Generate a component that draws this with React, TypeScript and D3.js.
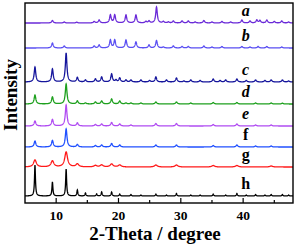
import React from 'react';
import * as d3 from 'd3';

// XRD patterns, peaks as [2-theta, height]
const labels = ['a', 'b', 'c', 'd', 'e', 'f', 'g', 'h'];
const colors = ['#6a2ad8', '#5a4ff2', '#15159c', '#1ea01e', '#b04cf2', '#2050ff', '#ff1a1a', '#000000'];
const offsets = [180, 155, 121, 99, 77, 56, 36, 7];
const widths = [0.15, 0.15, 0.15, 0.16, 0.16, 0.16, 0.27, 0.09];

const peaksA = [[9.4, 2.5], [11.3, 1], [13.3, 0.8], [16.1, 1.5], [16.9, 3], [18.7, 8], [19.4, 8], [21.2, 8], [22.8, 8], [24.4, 1.5], [24.9, 2], [26.1, 16], [27.2, 1.5], [28.0, 1], [28.8, 2], [30.2, 2], [31.2, 2], [32.3, 1], [33.7, 2.5], [35.0, 1], [36.6, 1.5], [38.0, 1], [39.8, 3], [41.1, 2], [42.2, 3], [42.7, 2.5], [43.8, 3], [45.0, 1.5], [46.2, 2], [47.3, 1]];
const peaksB = [[9.4, 5], [11.3, 2], [16.1, 2], [16.9, 3], [18.7, 8], [19.4, 8], [21.2, 8], [22.8, 6], [24.9, 3], [26.1, 7.5], [27.2, 1], [28.8, 2], [30.2, 1.5], [31.2, 1.5], [33.7, 2], [35.0, 1], [36.6, 1.5], [39.8, 1.5], [41.1, 1], [42.4, 1.5], [43.8, 1.5], [46.2, 1]];
const peaksC = [[6.6, 15], [9.4, 13], [11.6, 29], [13.4, 4.5], [14.7, 2], [16.3, 3], [17.3, 5], [18.9, 8], [19.6, 2], [20.2, 4], [21.2, 2], [22.0, 2], [23.6, 2], [25.0, 1.5], [26.0, 5], [27.7, 2], [29.3, 4], [30.5, 1], [31.6, 2], [33.1, 1.5], [35.2, 3], [36.3, 1.5], [37.2, 2], [39.0, 3], [40.5, 1.5], [42.0, 2], [43.5, 1.5], [44.5, 2], [46.3, 2], [47.3, 1]];
const peaksD = [[6.6, 9], [9.4, 7], [11.6, 20], [13.4, 3], [14.7, 1], [16.3, 2], [17.3, 3], [18.9, 5], [20.2, 3], [21.2, 1], [22.0, 1], [23.6, 1], [26.0, 2], [29.3, 2], [31.6, 1], [35.2, 1.5], [39.0, 1.5], [42.0, 1], [44.5, 1], [46.3, 0.8]];
const peaksE = [[6.6, 5], [9.4, 6.5], [11.6, 21], [13.4, 3], [16.3, 1.5], [17.3, 2], [18.9, 3.5], [20.2, 2], [22.0, 1], [26.0, 2.5], [29.3, 2.5], [35.2, 1.5], [39.0, 2], [42.0, 1], [44.5, 1]];
const peaksF = [[6.6, 6], [9.4, 6.5], [11.6, 18], [13.4, 2.5], [16.3, 1.5], [17.3, 2], [18.9, 3.5], [20.2, 2], [26.0, 2], [29.3, 2], [35.2, 1.5], [39.0, 2], [42.0, 1], [44.5, 1]];
const peaksG = [[6.6, 7], [9.4, 6], [11.6, 15], [13.4, 3], [16.3, 1.5], [17.3, 2], [18.9, 3], [20.2, 2], [26.0, 2], [29.3, 2], [35.2, 1.5], [39.0, 1.5], [44.5, 1]];
const peaksH = [[6.6, 31], [9.4, 14], [11.6, 27], [13.4, 6], [14.7, 3], [16.5, 2], [17.3, 4], [18.9, 4], [20.2, 2], [22.0, 1.5], [23.6, 1], [26.0, 2], [27.7, 1], [29.3, 2.5], [31.6, 1], [33.1, 1], [35.2, 2], [37.2, 1], [39.0, 2.5], [40.5, 1], [42.0, 1.5], [43.5, 1], [44.5, 1.5], [46.3, 1.5], [47.3, 1]];
const allPeaks = [peaksA, peaksB, peaksC, peaksD, peaksE, peaksF, peaksG, peaksH];

const majorTicks = [10, 20, 30, 40];
const minorTicks = [15, 25, 35, 45];

const W = 295;
const H = 246;
const margin = { left: 25, right: 2, top: 3, bottom: 43 };
const font = '"Liberation Serif", "Times New Roman", serif';

// turn a peak list into a profile (lorentzian line shape)
function profile(peaks: number[][], w: number) {
  const pts: [number, number][] = [];
  for (const t of d3.range(5, 48.001, 0.02)) {
    let v = 0;
    for (const [p, h] of peaks) {
      const u = (t - p) / w;
      v += h / (1 + u * u);
    }
    pts.push([t, v]);
  }
  return pts;
}

export default function App() {
  const x = d3.scaleLinear().domain([5, 48]).range([margin.left, W - margin.right]);
  const y = d3.scaleLinear().domain([0, 200]).range([H - margin.bottom, margin.top]);
  const bottom = H - margin.bottom;

  return (
    <svg width={W} height={H} style={{ position: 'absolute', left: 0, top: 0 }}>
      {allPeaks.map((pk, i) => {
        const line = d3
          .line<[number, number]>()
          .x((d) => x(d[0]))
          .y((d) => y(d[1] + offsets[i]));
        return (
          <path key={i} d={line(profile(pk, widths[i])) || ''} fill="none" stroke={colors[i]} strokeWidth={1.3} />
        );
      })}
      {labels.map((l, i) => (
        <text
          key={l}
          x={x(40.4)}
          y={y(offsets[i] + 7)}
          textAnchor="middle"
          fontFamily={font}
          fontWeight="bold"
          fontStyle={i < 5 ? 'italic' : 'normal'}
          fontSize={16}
        >
          {l}
        </text>
      ))}
      <rect
        x={margin.left}
        y={margin.top}
        width={W - margin.left - margin.right}
        height={bottom - margin.top}
        fill="none"
        stroke="#000"
        strokeWidth={1.4}
      />
      {majorTicks.map((t) => (
        <g key={t}>
          <line x1={x(t)} x2={x(t)} y1={bottom} y2={bottom - 5} stroke="#000" strokeWidth={1.2} />
          <text x={x(t)} y={bottom + 17} textAnchor="middle" fontFamily={font} fontWeight="bold" fontSize={13.5}>
            {t}
          </text>
        </g>
      ))}
      {minorTicks.map((t) => (
        <line key={t} x1={x(t)} x2={x(t)} y1={bottom} y2={bottom - 3} stroke="#000" strokeWidth={1.2} />
      ))}
      <text x={155} y={H - 6} textAnchor="middle" fontFamily={font} fontWeight="bold" fontSize={19}>
        2-Theta / degree
      </text>
      <text
        transform={`translate(17, ${(margin.top + bottom) / 2 - 8}) rotate(-90)`}
        textAnchor="middle"
        fontFamily={font}
        fontWeight="bold"
        fontSize={19}
      >
        Intensity
      </text>
    </svg>
  );
}
